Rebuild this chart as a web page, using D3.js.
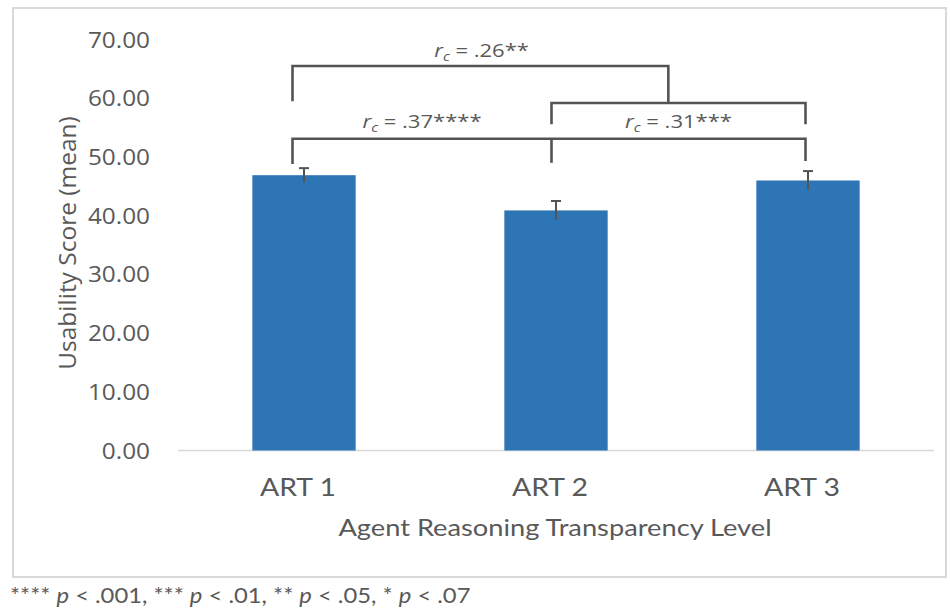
<!DOCTYPE html>
<html>
<head>
<meta charset="utf-8">
<script src="https://cdn.jsdelivr.net/npm/d3@7/dist/d3.min.js"></script>
<style>
  html, body { margin: 0; padding: 0; background: #fff; }
  svg { display: block; }
</style>
</head>
<body>
<svg id="chart" width="950" height="612"></svg>
<script>
// Mean usability score per agent reasoning transparency level, with SE
const categories = ["ART 1", "ART 2", "ART 3"];
const meanScores = [46.9, 40.9, 46.0];
const stdErrors = [1.2, 1.6, 1.6];
const yTickValues = [0, 10, 20, 30, 40, 50, 60, 70];

// Pairwise comparison labels (effect size r_c and significance stars)
const comparisonValues = [".26", ".37", ".31"];
const comparisonStars = ["**", "****", "***"];

const yTitle = "Usability Score (mean)";
const xTitle = "Agent Reasoning Transparency Level";

const svg = d3.select("#chart");
const W = 950, H = 612;
const SX = 1.16;               // horizontal glyph stretch used for all labels
const textColor = "#595959";
const lineColor = "#545454";

svg.append("rect").attr("width", W).attr("height", H).attr("fill", "#fff");

// chart frame
svg.append("rect")
  .attr("x", 13).attr("y", 8).attr("width", 933).attr("height", 569)
  .attr("fill", "none").attr("stroke", "#d9d9d9").attr("stroke-width", 2);

const x = d3.scaleBand().domain(categories).range([178, 934])
  .paddingInner(0.59).paddingOuter(0.295);
const y = d3.scaleLinear().domain([0, 70]).range([450.5, 39.6]);

// helper: stretched text placed at (px, py)
function label(g, px, py, anchor) {
  return g.append("text")
    .attr("transform", `translate(${px},${py}) scale(${SX},1)`)
    .attr("text-anchor", anchor)
    .attr("fill", textColor);
}

// y axis tick labels (no axis line, no gridlines)
const yAxis = d3.axisLeft(y).tickValues(yTickValues).tickFormat(d3.format(".2f")).tickSize(0);
const yg = svg.append("g").attr("transform", "translate(150,0)").call(yAxis);
yg.select(".domain").remove();
yg.selectAll(".tick text")
  .attr("x", 0).attr("dy", "0.36em")
  .attr("transform", `scale(${SX},1)`)
  .attr("font-family", "'Open Sans', 'Noto Sans', sans-serif")
  .attr("font-size", 21)
  .attr("fill", textColor);

// x axis baseline
svg.append("line")
  .attr("x1", 178).attr("x2", 934).attr("y1", y(0)).attr("y2", y(0))
  .attr("stroke", "#d9d9d9").attr("stroke-width", 1.5);

// category labels
categories.forEach(c => {
  label(svg, x(c) + x.bandwidth() / 2 - 6, 496, "middle")
    .attr("font-family", "Lato, 'Open Sans', sans-serif")
    .attr("font-size", 24.5)
    .text(c);
});

// bars
svg.append("g").selectAll("rect").data(categories).join("rect")
  .attr("x", c => x(c))
  .attr("width", x.bandwidth())
  .attr("y", (c, i) => y(meanScores[i]))
  .attr("height", (c, i) => y(0) - y(meanScores[i]))
  .attr("fill", "#2e75b6");

// error bars
const eg = svg.append("g").attr("stroke", lineColor).attr("stroke-width", 2);
categories.forEach((c, i) => {
  const cx = x(c) + x.bandwidth() / 2;
  eg.append("line").attr("x1", cx).attr("x2", cx)
    .attr("y1", y(meanScores[i] - stdErrors[i])).attr("y2", y(meanScores[i] + stdErrors[i]));
  eg.append("line").attr("x1", cx - 5).attr("x2", cx + 5)
    .attr("y1", y(meanScores[i] + stdErrors[i])).attr("y2", y(meanScores[i] + stdErrors[i]));
});

// significance brackets; leg anchors sit slightly left of each bar centre
const legNudge = [-11.5, -4.5, -2.5];
function legX(t) {
  const i = Math.min(Math.floor(t), categories.length - 2);
  const f = t - i;
  const a = x(categories[i]) + x.bandwidth() / 2 + legNudge[i];
  const b = x(categories[i + 1]) + x.bandwidth() / 2 + legNudge[i + 1];
  return a + (b - a) * f;
}
const line = d3.line().x(d => legX(d[0])).y(d => y(d[1]));
const bracketPaths = [
  [[0, 59.5], [0, 65.5], [1.46, 65.5], [1.46, 59.2]],     // ART 1 vs ART 2/3
  [[1, 55.6], [1, 59.2], [2, 59.2], [2, 55.6]],           // upper ART 2 – ART 3
  [[0, 48.8], [0, 53.1], [2, 53.1], [2, 49.3]],           // lower ART 1 – ART 3
  [[1, 53.1], [1, 49.0]]                                  // ART 2 leg
];
svg.append("g").selectAll("path").data(bracketPaths).join("path")
  .attr("d", line)
  .attr("fill", "none")
  .attr("stroke", lineColor)
  .attr("stroke-width", 2.6);

// bracket labels: centre (in category units) and baseline value
const labelPos = [[0.73, 67.1], [0.5, 55.0], [1.5, 55.0]];
comparisonValues.forEach((v, i) => {
  const t = label(svg, legX(labelPos[i][0]), y(labelPos[i][1]), "middle")
    .attr("font-family", "'Open Sans', 'Noto Sans', sans-serif")
    .attr("font-size", 19);
  t.append("tspan").attr("font-style", "italic").text("r");
  t.append("tspan").attr("font-style", "italic").attr("font-size", 13).attr("dy", 4).text("c");
  t.append("tspan").attr("dy", -4).text(" = " + v + comparisonStars[i]);
});

// axis titles
svg.append("text")
  .attr("transform", "translate(76,243) rotate(-90)")
  .attr("text-anchor", "middle")
  .attr("font-family", "'Open Sans', 'Noto Sans', sans-serif")
  .attr("font-size", 24.5)
  .attr("fill", textColor)
  .text(yTitle);

label(svg, 555, 536, "middle")
  .attr("font-family", "Lato, 'Open Sans', sans-serif")
  .attr("font-size", 23.5)
  .text(xTitle);

// footnote
const fn = svg.append("text")
  .attr("transform", `translate(10,603) scale(${SX},1)`)
  .attr("font-family", "Lato, 'Open Sans', sans-serif")
  .attr("font-size", 20.5)
  .attr("fill", textColor);
const parts = [["**** ", "p", " < .001, "], ["*** ", "p", " < .01, "], ["** ", "p", " < .05, "], ["* ", "p", " < .07"]];
parts.forEach(p => {
  fn.append("tspan").text(p[0]);
  fn.append("tspan").attr("font-style", "italic").text(p[1]);
  fn.append("tspan").text(p[2]);
});
</script>
</body>
</html>
